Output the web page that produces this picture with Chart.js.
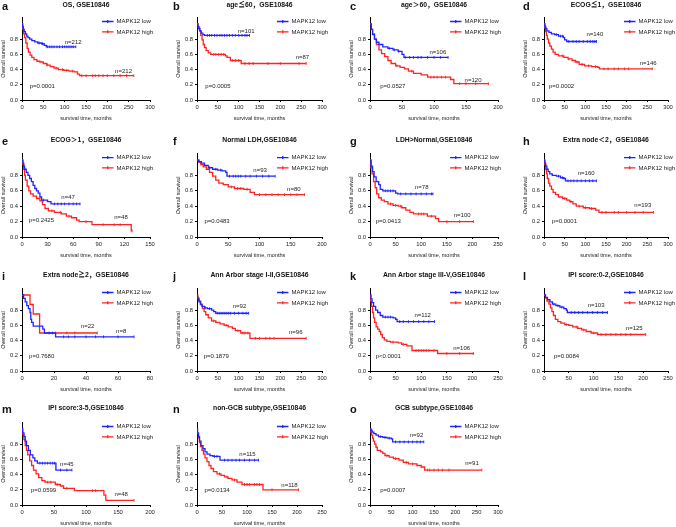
<!DOCTYPE html>
<html>
<head>
<meta charset="utf-8">
<script src="https://cdn.jsdelivr.net/npm/chart.js@4.4.1/dist/chart.umd.min.js"></script>
<style>
  body { margin: 0; background: #fff; width: 676px; height: 527px; position: relative; overflow: hidden; }
  canvas { position: absolute; }
</style>
</head>
<body>
<script>
// ---- data (months, survival fraction) ----
// step curves: [time, survival after drop]
const aLow = [[0,1],[1,0.97],[3,0.93],[5,0.9],[8,0.87],[11,0.84],[14,0.82],[18,0.8],[23,0.78],[30,0.765],[37,0.75],[46,0.74],[52,0.72],[57,0.70],[126,0.70]];
const aHigh = [[0,1],[2,0.93],[4,0.87],[6,0.82],[9,0.75],[12,0.68],[15,0.63],[19,0.59],[23,0.56],[28,0.53],[35,0.51],[42,0.5],[50,0.48],[58,0.46],[66,0.44],[75,0.42],[85,0.4],[98,0.39],[110,0.38],[122,0.37],[130,0.34],[135,0.32],[262,0.32]];
const aLowCens = [40,48,60,65,70,75,82,88,95,100,105,110,115,120,126];
const aHighCens = [60,80,95,105,118,140,150,165,172,180,190,200,215,230,245,262];

const bLow = [[0,1],[2,0.97],[4,0.94],[7,0.91],[10,0.88],[14,0.86],[18,0.85],[126,0.85]];
const bHigh = [[0,1],[3,0.96],[6,0.91],[9,0.85],[12,0.79],[15,0.73],[18,0.69],[22,0.65],[27,0.62],[33,0.6],[68,0.58],[72,0.56],[80,0.52],[106,0.48],[262,0.48]];
const bLowCens = [25,30,35,42,48,55,60,66,72,78,85,92,100,108,115,120,126];
const bHighCens = [40,45,52,58,64,85,92,100,115,125,135,170,200,245,262];

const cLow = [[0,1],[2,0.93],[4,0.86],[7,0.8],[10,0.76],[14,0.73],[20,0.7],[28,0.68],[36,0.66],[44,0.64],[50,0.6],[53,0.56],[122,0.56]];
const cHigh = [[0,1],[2,0.93],[4,0.87],[7,0.8],[10,0.73],[14,0.66],[18,0.61],[23,0.57],[28,0.52],[33,0.48],[40,0.45],[47,0.43],[54,0.41],[60,0.38],[68,0.35],[80,0.33],[90,0.3],[126,0.27],[131,0.215],[185,0.215]];
const cLowCens = [30,38,45,55,62,68,75,80,90,100,110,122];
const cHighCens = [42,65,95,100,105,112,118,140,150,165,185];

const dLow = [[0,1],[2,0.97],[4,0.94],[7,0.91],[12,0.89],[18,0.87],[26,0.86],[35,0.84],[47,0.82],[50,0.79],[55,0.77],[127,0.77]];
const dHigh = [[0,1],[2,0.95],[4,0.9],[6,0.85],[8,0.8],[11,0.75],[14,0.71],[18,0.67],[22,0.63],[27,0.6],[35,0.58],[48,0.56],[58,0.54],[68,0.52],[76,0.5],[85,0.47],[98,0.45],[115,0.44],[130,0.43],[134,0.41],[262,0.41]];
const dLowCens = [30,40,45,60,70,78,85,95,105,112,118,123,127];
const dHighCens = [45,60,80,92,108,125,145,155,170,180,195,205,262];

const eLow = [[0,1],[1,0.96],[2,0.92],[3,0.88],[5,0.84],[7,0.8],[9,0.76],[11,0.72],[13,0.67],[15,0.63],[17,0.6],[19,0.57],[21,0.52],[23,0.48],[30,0.46],[34,0.43],[68,0.43]];
const eHigh = [[0,1],[1,0.94],[2,0.88],[3,0.8],[4,0.74],[6,0.66],[8,0.6],[10,0.56],[13,0.53],[17,0.5],[21,0.47],[24,0.42],[27,0.37],[31,0.34],[38,0.32],[46,0.3],[52,0.27],[58,0.25],[64,0.22],[67,0.2],[82,0.16],[128,0.08],[129,0.08]];
const eLowCens = [25,38,42,46,50,55,60,64,68];
const eHighCens = [35,45,55,75,95,108,115,129];

const fLow = [[0,1],[3,0.98],[7,0.96],[12,0.93],[18,0.9],[25,0.88],[33,0.87],[40,0.86],[46,0.84],[48,0.79],[125,0.79]];
const fHigh = [[0,1],[3,0.97],[6,0.94],[10,0.91],[15,0.88],[20,0.84],[25,0.79],[30,0.74],[35,0.7],[42,0.68],[50,0.65],[60,0.63],[75,0.62],[85,0.58],[92,0.55],[172,0.55]];
const fLowCens = [20,30,38,52,58,62,66,70,78,85,95,105,115,125];
const fHighCens = [55,65,70,80,100,110,120,130,140,150,160,172];

const gLow = [[0,1],[2,0.92],[5,0.85],[8,0.78],[12,0.72],[17,0.68],[20,0.62],[25,0.6],[50,0.57],[54,0.56],[123,0.56]];
const gHigh = [[0,1],[2,0.9],[4,0.82],[7,0.72],[10,0.64],[13,0.56],[17,0.51],[22,0.48],[28,0.46],[35,0.43],[45,0.41],[55,0.4],[62,0.38],[70,0.35],[78,0.32],[85,0.3],[112,0.27],[128,0.24],[134,0.2],[202,0.2]];
const gLowCens = [30,35,40,45,60,70,80,90,100,110,120,123];
const gHighCens = [40,50,60,95,100,105,120,150,175,202];

const hLow = [[0,1],[2,0.96],[4,0.92],[7,0.88],[10,0.85],[14,0.82],[20,0.8],[30,0.79],[40,0.77],[48,0.76],[52,0.73],[127,0.73]];
const hHigh = [[0,1],[2,0.94],[4,0.88],[6,0.82],[8,0.76],[11,0.7],[14,0.66],[18,0.62],[22,0.58],[28,0.55],[35,0.52],[45,0.5],[55,0.48],[62,0.46],[70,0.43],[78,0.4],[95,0.38],[110,0.37],[125,0.35],[133,0.32],[265,0.32]];
const hLowCens = [35,45,58,65,72,80,90,100,110,118,127];
const hHighCens = [50,65,85,100,115,140,150,170,180,200,220,240,265];

const iLow = [[0,1],[1,0.955],[2,0.91],[3,0.86],[4,0.82],[5,0.77],[5.5,0.68],[6,0.64],[7,0.59],[13,0.55],[14,0.5],[21,0.45],[70,0.45]];
const iHigh = [[0,1],[5,0.875],[7,0.75],[11,0.5],[47,0.5]];
const iLowCens = [17,19,26,29,33,40,46,51,60,70];
const iHighCens = [21,28,33,47];

const jLow = [[0,1],[1,0.97],[3,0.94],[5,0.91],[8,0.88],[12,0.85],[18,0.83],[25,0.82],[35,0.8],[40,0.78],[45,0.76],[124,0.76]];
const jHigh = [[0,1],[2,0.96],[5,0.92],[9,0.87],[13,0.82],[17,0.78],[21,0.74],[27,0.7],[35,0.66],[45,0.64],[55,0.62],[65,0.6],[75,0.58],[85,0.56],[92,0.53],[105,0.5],[127,0.43],[262,0.43]];
const jLowCens = [20,30,50,55,60,65,70,75,80,90,100,110,118,124];
const jHighCens = [40,70,98,110,115,122,140,150,165,175,185,262];

const kLow = [[0,1],[2,0.95],[4,0.9],[7,0.85],[11,0.8],[15,0.77],[20,0.73],[25,0.71],[45,0.7],[50,0.68],[53,0.65],[126,0.65]];
const kHigh = [[0,1],[1,0.92],[3,0.85],[5,0.77],[7,0.7],[9,0.64],[12,0.58],[15,0.55],[18,0.52],[21,0.48],[24,0.44],[28,0.41],[33,0.39],[40,0.38],[55,0.37],[62,0.35],[72,0.33],[82,0.27],[132,0.23],[202,0.23]];
const kLowCens = [30,35,40,58,65,75,85,95,105,115,126];
const kHighCens = [45,65,90,95,100,105,110,115,125,150,175,202];

const lLow = [[0,1],[3,0.97],[7,0.94],[12,0.91],[17,0.88],[24,0.86],[32,0.84],[40,0.82],[45,0.8],[47,0.77],[128,0.77]];
const lHigh = [[0,1],[3,0.96],[6,0.92],[10,0.88],[13,0.83],[16,0.78],[19,0.73],[23,0.68],[28,0.65],[34,0.63],[42,0.61],[50,0.6],[58,0.58],[68,0.56],[76,0.54],[85,0.52],[95,0.5],[108,0.48],[205,0.48]];
const lLowCens = [20,28,36,55,62,70,78,88,98,108,118,128];
const lHighCens = [45,65,80,100,115,125,135,145,155,165,175,205];

const mLow = [[0,1],[1,0.95],[3,0.9],[5,0.84],[7,0.78],[10,0.72],[13,0.66],[17,0.62],[20,0.58],[24,0.55],[53,0.46],[78,0.46]];
const mHigh = [[0,1],[1,0.93],[3,0.86],[5,0.78],[7,0.72],[9,0.66],[12,0.58],[15,0.52],[18,0.46],[22,0.41],[26,0.36],[31,0.32],[36,0.3],[52,0.27],[60,0.25],[65,0.22],[82,0.19],[128,0.13],[131,0.06],[175,0.06]];
const mLowCens = [28,32,36,40,44,48,51,60,70,78];
const mHighCens = [40,45,55,70,110,115,175];

const nLow = [[0,1],[1,0.95],[3,0.9],[5,0.84],[8,0.78],[12,0.74],[16,0.7],[20,0.67],[26,0.65],[32,0.64],[46,0.59],[123,0.59]];
const nHigh = [[0,1],[1,0.94],[3,0.88],[5,0.82],[7,0.77],[10,0.72],[13,0.67],[16,0.62],[20,0.57],[24,0.52],[28,0.48],[33,0.44],[40,0.41],[48,0.39],[55,0.37],[62,0.35],[70,0.33],[80,0.3],[90,0.27],[132,0.2],[203,0.2]];
const nLowCens = [35,40,55,62,70,78,85,95,105,115,123];
const nHighCens = [45,60,75,95,100,105,115,120,125,150,203];

const oLow = [[0,1],[2,0.98],[5,0.96],[9,0.94],[14,0.92],[20,0.9],[30,0.89],[40,0.88],[50,0.87],[53,0.83],[126,0.83]];
const oHigh = [[0,1],[2,0.96],[4,0.92],[6,0.88],[8,0.84],[11,0.8],[14,0.76],[17,0.72],[25,0.7],[30,0.68],[35,0.65],[45,0.63],[55,0.61],[68,0.59],[78,0.56],[90,0.54],[110,0.52],[120,0.5],[128,0.46],[262,0.46]];
const oLowCens = [25,35,45,60,70,80,90,100,110,118,126];
const oHighCens = [40,60,85,100,135,140,150,160,170,185,262];

const lowCurves = [aLow,bLow,cLow,dLow,eLow,fLow,gLow,hLow,iLow,jLow,kLow,lLow,mLow,nLow,oLow];
const highCurves = [aHigh,bHigh,cHigh,dHigh,eHigh,fHigh,gHigh,hHigh,iHigh,jHigh,kHigh,lHigh,mHigh,nHigh,oHigh];
const lowCensored = [aLowCens,bLowCens,cLowCens,dLowCens,eLowCens,fLowCens,gLowCens,hLowCens,iLowCens,jLowCens,kLowCens,lLowCens,mLowCens,nLowCens,oLowCens];
const highCensored = [aHighCens,bHighCens,cHighCens,dHighCens,eHighCens,fHighCens,gHighCens,hHighCens,iHighCens,jHighCens,kHighCens,lHighCens,mHighCens,nHighCens,oHighCens];

const titles = ['OS, GSE10846', 'age≦60，GSE10846', 'age＞60，GSE10846', 'ECOG≦1，GSE10846',
  'ECOG＞1，GSE10846', 'Normal LDH,GSE10846', 'LDH>Normal,GSE10846', 'Extra node＜2，GSE10846',
  'Extra node≧2，GSE10846', 'Ann Arbor stage I-II,GSE10846', 'Ann Arbor stage III-V,GSE10846', 'IPI score:0-2,GSE10846',
  'IPI score:3-5,GSE10846', 'non-GCB subtype,GSE10846', 'GCB subtype,GSE10846'];
const letters = ['a','b','c','d','e','f','g','h','i','j','k','l','m','n','o'];
const xMaxes = [300,300,200,300,150,200,250,300,80,300,250,250,200,250,300];
const xSteps = [50,50,50,50,30,50,50,50,20,50,50,50,50,50,50];
const nLowText = ['n=212','n=101','n=106','n=140','n=47','n=93','n=78','n=160','n=22','n=92','n=112','n=103','n=45','n=115','n=92'];
const nHighText = ['n=212','n=87','n=120','n=146','n=48','n=80','n=100','n=193','n=8','n=96','n=106','n=125','n=48','n=118','n=91'];
const pText = ['p=0.0001','p=0.0005','p=0.0527','p=0.0002','p=0.2425','p=0.0483','p=0.0413','p=0.0001',
  'p=0.7680','p=0.1879','p<0.0001','p=0.0084','p=0.0599','p=0.0134','p=0.0007'];
const seriesNames = ['MAPK12 low', 'MAPK12 high'];

// where the n= / p= notes sit (in axis units)
const nLowAt = [[120,0.76],[118,0.9],[106,0.63],[123,0.87],[54,0.52],[101,0.86],[101,0.65],[102,0.83],[41,0.59],[102,0.85],[103,0.73],[105,0.86],[70,0.54],[101,0.665],[109,0.91]];
const nHighAt = [[238,0.38],[253,0.565],[161,0.265],[252,0.48],[116,0.255],[155,0.615],[180,0.28],[239,0.41],[62,0.525],[237,0.51],[179,0.3],[182,0.555],[155,0.14],[185,0.26],[239,0.545]];
const pAt = [[18,0.185],[20,0.185],[16,0.185],[12,0.185],[8,0.21],[12,0.2],[11,0.205],[19,0.205],[4.4,0.193],[16,0.193],[11,0.193],[20,0.193],[14,0.187],[15,0.187],[24,0.19]];

// ---- layout ----
const FONT = "'Liberation Sans', Arial, 'Noto Sans CJK SC', sans-serif";
const BLUE = '#1f24ff';
const RED = '#ff2222';
const colLeft = [22, 197, 370, 544];
const colRight = [149.5, 322, 497.5, 668];
const letterLeft = [2, 173, 350, 523];
const rowOne = [24, 160, 295, 429];
const rowZero = [100, 236.5, 371, 505];
const titleGap = [19, 20, 20, 21];
const Y_MAX = 1.08;

function survAt(curve, t) {
  let s = curve[0][1];
  for (const [ti, si] of curve) { if (ti <= t) s = si; }
  return s;
}

function makePanel(i) {
  const col = i % 4, row = Math.floor(i / 4);
  const L = colLeft[col], R = colRight[col];
  const cLeft = L - 26, cTop = rowOne[row] - 30;
  const unit = rowZero[row] - rowOne[row];
  const chartTop = rowOne[row] - (Y_MAX - 1) * unit;
  const cv = document.createElement('canvas');
  cv.width = Math.round(R - L) + 38;
  cv.height = Math.round(rowZero[row] - cTop) + 23;
  cv.style.left = cLeft + 'px';
  cv.style.top = cTop + 'px';
  document.body.appendChild(cv);

  const low = lowCurves[i], high = highCurves[i];

  const notes = {
    id: 'kmNotes',
    afterDraw(chart) {
      const ctx = chart.ctx, ca = chart.chartArea;
      const xs = chart.scales.x, ys = chart.scales.y;
      const y1 = ys.getPixelForValue(1);
      ctx.save();
      ctx.fillStyle = '#111';
      // panel letter
      ctx.font = 'bold 11px ' + FONT;
      ctx.textAlign = 'left';
      ctx.textBaseline = 'alphabetic';
      ctx.fillText(letters[i], letterLeft[col] - cLeft, y1 - titleGap[row] + 4.5);
      // title
      ctx.font = 'bold 6.8px ' + FONT;
      ctx.textAlign = 'center';
      ctx.textBaseline = 'middle';
      ctx.fillText(titles[i], (ca.left + ca.right) / 2, y1 - titleGap[row]);
      // legend
      ctx.font = '6px ' + FONT;
      ctx.textAlign = 'left';
      [BLUE, RED].forEach((c, k) => {
        const ly = y1 - 2.5 + k * 10.3, lx = ca.left + 80;
        ctx.strokeStyle = c;
        ctx.lineWidth = 1.3;
        ctx.beginPath();
        ctx.moveTo(lx, ly); ctx.lineTo(lx + 11.5, ly);
        ctx.moveTo(lx + 5.75, ly - 1.5); ctx.lineTo(lx + 5.75, ly + 1.5);
        ctx.stroke();
        ctx.fillStyle = '#222';
        ctx.fillText(seriesNames[k], lx + 14.5, ly + 0.3);
      });
      // n= and p=
      ctx.fillStyle = '#222';
      ctx.textAlign = 'center';
      ctx.fillText(nLowText[i], xs.getPixelForValue(nLowAt[i][0]), ys.getPixelForValue(nLowAt[i][1]));
      ctx.fillText(nHighText[i], xs.getPixelForValue(nHighAt[i][0]), ys.getPixelForValue(nHighAt[i][1]));
      ctx.textAlign = 'left';
      ctx.fillText(pText[i], xs.getPixelForValue(pAt[i][0]), ys.getPixelForValue(pAt[i][1]));
      ctx.restore();
    }
  };

  const tickFont = { family: FONT, size: 5.8 };
  new Chart(cv, {
    type: 'line',
    data: {
      datasets: [
        { data: high.map(([x, y]) => ({ x, y })), borderColor: RED, borderWidth: 1.3, stepped: true, pointRadius: 0, fill: false, order: 4 },
        { data: highCensored[i].map(t => ({ x: t, y: survAt(high, t) })), showLine: false, pointStyle: 'line', pointRotation: 90,
          pointRadius: 1.4, pointBorderWidth: 0.9, pointBorderColor: RED, borderColor: RED, order: 3 },
        { data: low.map(([x, y]) => ({ x, y })), borderColor: BLUE, borderWidth: 1.3, stepped: true, pointRadius: 0, fill: false, order: 2 },
        { data: lowCensored[i].map(t => ({ x: t, y: survAt(low, t) })), showLine: false, pointStyle: 'line', pointRotation: 90,
          pointRadius: 1.4, pointBorderWidth: 0.9, pointBorderColor: BLUE, borderColor: BLUE, order: 1 }
      ]
    },
    options: {
      responsive: false,
      animation: false,
      events: [],
      layout: { padding: { left: 0, top: chartTop - cTop, right: 12, bottom: 0 } },
      plugins: { legend: { display: false }, tooltip: { enabled: false } },
      scales: {
        x: {
          type: 'linear', min: 0, max: xMaxes[i],
          ticks: { stepSize: xSteps[i], font: tickFont, color: '#222', padding: 2, maxRotation: 0, autoSkip: false },
          grid: { drawOnChartArea: false, drawTicks: true, tickLength: 2, color: '#000' },
          border: { color: '#000', width: 1 },
          title: { display: true, text: 'survival time, months', font: { family: FONT, size: 5.5 }, color: '#222', padding: { top: 0, bottom: 1 } },
          afterFit(s) { s.height = 23; }
        },
        y: {
          min: 0, max: Y_MAX,
          ticks: { stepSize: 0.2, font: tickFont, color: '#222', padding: 2, callback: v => v.toFixed(1) },
          afterBuildTicks(s) { s.ticks = s.ticks.filter(t => t.value <= 1.0001); },
          grid: { drawOnChartArea: false, drawTicks: true, tickLength: 2, color: '#000' },
          border: { color: '#000', width: 1 },
          title: { display: true, text: 'Overall survival', font: { family: FONT, size: 5.5 }, color: '#222', padding: { top: 4, bottom: 0 } },
          afterFit(s) { s.width = 26; }
        }
      }
    },
    plugins: [notes]
  });
}

for (let i = 0; i < 15; i++) makePanel(i);
</script>
</body>
</html>
